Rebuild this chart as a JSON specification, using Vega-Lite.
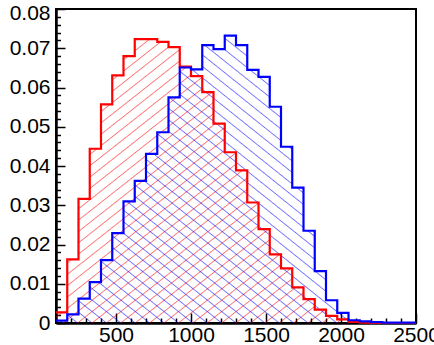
{
  "$schema": "https://vega.github.io/schema/vega-lite/v6.json",
  "width": 360,
  "height": 314,
  "autosize": {"type": "none"},
  "padding": {"left": 56, "top": 9, "right": 18, "bottom": 22},
  "background": "white",
  "config": {
    "view": {"stroke": "black", "strokeWidth": 2},
    "axis": {
      "grid": false,
      "title": null,
      "domainColor": "black",
      "domainWidth": 2.5,
      "tickColor": "black",
      "tickWidth": 1.5,
      "labelColor": "black",
      "labelFont": "Liberation Sans",
      "labelFontSize": 21,
      "labelOverlap": false,
      "labelBound": false,
      "labelFlush": false
    }
  },
  "data": {
    "values": [
      {"s": "red", "x": 100, "y": 0.0027},
      {"s": "red", "x": 175, "y": 0.0162},
      {"s": "red", "x": 250, "y": 0.0316},
      {"s": "red", "x": 325, "y": 0.0444},
      {"s": "red", "x": 400, "y": 0.0557},
      {"s": "red", "x": 475, "y": 0.0631},
      {"s": "red", "x": 550, "y": 0.068},
      {"s": "red", "x": 625, "y": 0.0723},
      {"s": "red", "x": 700, "y": 0.0723},
      {"s": "red", "x": 775, "y": 0.0716},
      {"s": "red", "x": 850, "y": 0.0703},
      {"s": "red", "x": 925, "y": 0.0653},
      {"s": "red", "x": 1000, "y": 0.0629},
      {"s": "red", "x": 1075, "y": 0.0588},
      {"s": "red", "x": 1150, "y": 0.0508},
      {"s": "red", "x": 1225, "y": 0.0435},
      {"s": "red", "x": 1300, "y": 0.0389},
      {"s": "red", "x": 1375, "y": 0.0307},
      {"s": "red", "x": 1450, "y": 0.0239},
      {"s": "red", "x": 1525, "y": 0.0175},
      {"s": "red", "x": 1600, "y": 0.0139},
      {"s": "red", "x": 1675, "y": 0.0091},
      {"s": "red", "x": 1750, "y": 0.0061},
      {"s": "red", "x": 1825, "y": 0.0034},
      {"s": "red", "x": 1900, "y": 0.0018},
      {"s": "red", "x": 1975, "y": 0.0009},
      {"s": "red", "x": 2050, "y": 0.0003},
      {"s": "red", "x": 2125, "y": 0.0001},
      {"s": "red", "x": 2200, "y": 0},
      {"s": "red", "x": 2275, "y": 0},
      {"s": "red", "x": 2350, "y": 0},
      {"s": "red", "x": 2425, "y": 0},
      {"s": "red", "x": 2500, "y": 0},
      {"s": "blue", "x": 100, "y": 0.0006},
      {"s": "blue", "x": 175, "y": 0.0022},
      {"s": "blue", "x": 250, "y": 0.0062},
      {"s": "blue", "x": 325, "y": 0.0104},
      {"s": "blue", "x": 400, "y": 0.016},
      {"s": "blue", "x": 475, "y": 0.0229},
      {"s": "blue", "x": 550, "y": 0.031},
      {"s": "blue", "x": 625, "y": 0.0362},
      {"s": "blue", "x": 700, "y": 0.0431},
      {"s": "blue", "x": 775, "y": 0.0486},
      {"s": "blue", "x": 850, "y": 0.0575},
      {"s": "blue", "x": 925, "y": 0.0651},
      {"s": "blue", "x": 1000, "y": 0.0646},
      {"s": "blue", "x": 1075, "y": 0.0708},
      {"s": "blue", "x": 1150, "y": 0.0698},
      {"s": "blue", "x": 1225, "y": 0.0732},
      {"s": "blue", "x": 1300, "y": 0.0708},
      {"s": "blue", "x": 1375, "y": 0.0645},
      {"s": "blue", "x": 1450, "y": 0.0627},
      {"s": "blue", "x": 1525, "y": 0.0551},
      {"s": "blue", "x": 1600, "y": 0.0449},
      {"s": "blue", "x": 1675, "y": 0.0345},
      {"s": "blue", "x": 1750, "y": 0.0235},
      {"s": "blue", "x": 1825, "y": 0.0132},
      {"s": "blue", "x": 1900, "y": 0.0058},
      {"s": "blue", "x": 1975, "y": 0.0026},
      {"s": "blue", "x": 2050, "y": 0.0007},
      {"s": "blue", "x": 2125, "y": 0.0004},
      {"s": "blue", "x": 2200, "y": 0.0002},
      {"s": "blue", "x": 2275, "y": 0.0001},
      {"s": "blue", "x": 2350, "y": 0.0001},
      {"s": "blue", "x": 2425, "y": 0.0001},
      {"s": "blue", "x": 2500, "y": 0.0001}
    ]
  },
  "encoding": {
    "x": {
      "field": "x",
      "type": "quantitative",
      "scale": {"domain": [100, 2500], "nice": false, "zero": false},
      "axis": {
        "values": [100,200,300,400,500,600,700,800,900,1000,1100,1200,1300,1400,1500,1600,1700,1800,1900,2000,2100,2200,2300,2400,2500],
        "labelExpr": "datum.value % 500 === 0 ? '' + datum.value : ''",
        "tickSize": {"condition": {"test": "datum.value % 500 === 0", "value": -10}, "value": -5},
        "labelPadding": 11
      }
    },
    "y": {
      "field": "y",
      "type": "quantitative",
      "scale": {"domain": [0, 0.08], "nice": false},
      "axis": {
        "values": [0,0.002,0.004,0.006,0.008,0.01,0.012,0.014,0.016,0.018,0.02,0.022,0.024,0.026,0.028,0.03,0.032,0.034,0.036,0.038,0.04,0.042,0.044,0.046,0.048,0.05,0.052,0.054,0.056,0.058,0.06,0.062,0.064,0.066,0.068,0.07,0.072,0.074,0.076,0.078,0.08],
        "labelExpr": "abs(datum.value*100-round(datum.value*100))<0.001 ? (datum.value===0 ? '0' : format(datum.value,'.2f')) : ''",
        "tickSize": {"condition": {"test": "abs(datum.value*100-round(datum.value*100))<0.001", "value": -9}, "value": -4.5},
        "labelOffset": {"condition": {"test": "datum.value > 0.0799", "value": 4}, "value": 0},
        "labelPadding": 15
      }
    }
  },
  "layer": [
    {
      "transform": [{"filter": "datum.s === 'red'"}],
      "mark": {
        "type": "area",
        "interpolate": "step-after",
        "opacity": 1,
        "fill": {
          "gradient": "linear", "x1": 0, "y1": 0, "x2": 1, "y2": 1,
          "stops": [
            {"offset":0.008,"color":"rgba(255,0,0,0)"},{"offset":0.01,"color":"rgba(255,0,0,0.55)"},{"offset":0.012,"color":"rgba(255,0,0,0)"},
            {"offset":0.028,"color":"rgba(255,0,0,0)"},{"offset":0.03,"color":"rgba(255,0,0,0.55)"},{"offset":0.032,"color":"rgba(255,0,0,0)"},
            {"offset":0.048,"color":"rgba(255,0,0,0)"},{"offset":0.05,"color":"rgba(255,0,0,0.55)"},{"offset":0.052,"color":"rgba(255,0,0,0)"},
            {"offset":0.068,"color":"rgba(255,0,0,0)"},{"offset":0.07,"color":"rgba(255,0,0,0.55)"},{"offset":0.072,"color":"rgba(255,0,0,0)"},
            {"offset":0.088,"color":"rgba(255,0,0,0)"},{"offset":0.09,"color":"rgba(255,0,0,0.55)"},{"offset":0.092,"color":"rgba(255,0,0,0)"},
            {"offset":0.108,"color":"rgba(255,0,0,0)"},{"offset":0.11,"color":"rgba(255,0,0,0.55)"},{"offset":0.112,"color":"rgba(255,0,0,0)"},
            {"offset":0.128,"color":"rgba(255,0,0,0)"},{"offset":0.13,"color":"rgba(255,0,0,0.55)"},{"offset":0.132,"color":"rgba(255,0,0,0)"},
            {"offset":0.148,"color":"rgba(255,0,0,0)"},{"offset":0.15,"color":"rgba(255,0,0,0.55)"},{"offset":0.152,"color":"rgba(255,0,0,0)"},
            {"offset":0.168,"color":"rgba(255,0,0,0)"},{"offset":0.17,"color":"rgba(255,0,0,0.55)"},{"offset":0.172,"color":"rgba(255,0,0,0)"},
            {"offset":0.188,"color":"rgba(255,0,0,0)"},{"offset":0.19,"color":"rgba(255,0,0,0.55)"},{"offset":0.192,"color":"rgba(255,0,0,0)"},
            {"offset":0.208,"color":"rgba(255,0,0,0)"},{"offset":0.21,"color":"rgba(255,0,0,0.55)"},{"offset":0.212,"color":"rgba(255,0,0,0)"},
            {"offset":0.228,"color":"rgba(255,0,0,0)"},{"offset":0.23,"color":"rgba(255,0,0,0.55)"},{"offset":0.232,"color":"rgba(255,0,0,0)"},
            {"offset":0.248,"color":"rgba(255,0,0,0)"},{"offset":0.25,"color":"rgba(255,0,0,0.55)"},{"offset":0.252,"color":"rgba(255,0,0,0)"},
            {"offset":0.268,"color":"rgba(255,0,0,0)"},{"offset":0.27,"color":"rgba(255,0,0,0.55)"},{"offset":0.272,"color":"rgba(255,0,0,0)"},
            {"offset":0.288,"color":"rgba(255,0,0,0)"},{"offset":0.29,"color":"rgba(255,0,0,0.55)"},{"offset":0.292,"color":"rgba(255,0,0,0)"},
            {"offset":0.308,"color":"rgba(255,0,0,0)"},{"offset":0.31,"color":"rgba(255,0,0,0.55)"},{"offset":0.312,"color":"rgba(255,0,0,0)"},
            {"offset":0.328,"color":"rgba(255,0,0,0)"},{"offset":0.33,"color":"rgba(255,0,0,0.55)"},{"offset":0.332,"color":"rgba(255,0,0,0)"},
            {"offset":0.348,"color":"rgba(255,0,0,0)"},{"offset":0.35,"color":"rgba(255,0,0,0.55)"},{"offset":0.352,"color":"rgba(255,0,0,0)"},
            {"offset":0.368,"color":"rgba(255,0,0,0)"},{"offset":0.37,"color":"rgba(255,0,0,0.55)"},{"offset":0.372,"color":"rgba(255,0,0,0)"},
            {"offset":0.388,"color":"rgba(255,0,0,0)"},{"offset":0.39,"color":"rgba(255,0,0,0.55)"},{"offset":0.392,"color":"rgba(255,0,0,0)"},
            {"offset":0.408,"color":"rgba(255,0,0,0)"},{"offset":0.41,"color":"rgba(255,0,0,0.55)"},{"offset":0.412,"color":"rgba(255,0,0,0)"},
            {"offset":0.428,"color":"rgba(255,0,0,0)"},{"offset":0.43,"color":"rgba(255,0,0,0.55)"},{"offset":0.432,"color":"rgba(255,0,0,0)"},
            {"offset":0.448,"color":"rgba(255,0,0,0)"},{"offset":0.45,"color":"rgba(255,0,0,0.55)"},{"offset":0.452,"color":"rgba(255,0,0,0)"},
            {"offset":0.468,"color":"rgba(255,0,0,0)"},{"offset":0.47,"color":"rgba(255,0,0,0.55)"},{"offset":0.472,"color":"rgba(255,0,0,0)"},
            {"offset":0.488,"color":"rgba(255,0,0,0)"},{"offset":0.49,"color":"rgba(255,0,0,0.55)"},{"offset":0.492,"color":"rgba(255,0,0,0)"},
            {"offset":0.508,"color":"rgba(255,0,0,0)"},{"offset":0.51,"color":"rgba(255,0,0,0.55)"},{"offset":0.512,"color":"rgba(255,0,0,0)"},
            {"offset":0.528,"color":"rgba(255,0,0,0)"},{"offset":0.53,"color":"rgba(255,0,0,0.55)"},{"offset":0.532,"color":"rgba(255,0,0,0)"},
            {"offset":0.548,"color":"rgba(255,0,0,0)"},{"offset":0.55,"color":"rgba(255,0,0,0.55)"},{"offset":0.552,"color":"rgba(255,0,0,0)"},
            {"offset":0.568,"color":"rgba(255,0,0,0)"},{"offset":0.57,"color":"rgba(255,0,0,0.55)"},{"offset":0.572,"color":"rgba(255,0,0,0)"},
            {"offset":0.588,"color":"rgba(255,0,0,0)"},{"offset":0.59,"color":"rgba(255,0,0,0.55)"},{"offset":0.592,"color":"rgba(255,0,0,0)"},
            {"offset":0.608,"color":"rgba(255,0,0,0)"},{"offset":0.61,"color":"rgba(255,0,0,0.55)"},{"offset":0.612,"color":"rgba(255,0,0,0)"},
            {"offset":0.628,"color":"rgba(255,0,0,0)"},{"offset":0.63,"color":"rgba(255,0,0,0.55)"},{"offset":0.632,"color":"rgba(255,0,0,0)"},
            {"offset":0.648,"color":"rgba(255,0,0,0)"},{"offset":0.65,"color":"rgba(255,0,0,0.55)"},{"offset":0.652,"color":"rgba(255,0,0,0)"},
            {"offset":0.668,"color":"rgba(255,0,0,0)"},{"offset":0.67,"color":"rgba(255,0,0,0.55)"},{"offset":0.672,"color":"rgba(255,0,0,0)"},
            {"offset":0.688,"color":"rgba(255,0,0,0)"},{"offset":0.69,"color":"rgba(255,0,0,0.55)"},{"offset":0.692,"color":"rgba(255,0,0,0)"},
            {"offset":0.708,"color":"rgba(255,0,0,0)"},{"offset":0.71,"color":"rgba(255,0,0,0.55)"},{"offset":0.712,"color":"rgba(255,0,0,0)"},
            {"offset":0.728,"color":"rgba(255,0,0,0)"},{"offset":0.73,"color":"rgba(255,0,0,0.55)"},{"offset":0.732,"color":"rgba(255,0,0,0)"},
            {"offset":0.748,"color":"rgba(255,0,0,0)"},{"offset":0.75,"color":"rgba(255,0,0,0.55)"},{"offset":0.752,"color":"rgba(255,0,0,0)"},
            {"offset":0.768,"color":"rgba(255,0,0,0)"},{"offset":0.77,"color":"rgba(255,0,0,0.55)"},{"offset":0.772,"color":"rgba(255,0,0,0)"},
            {"offset":0.788,"color":"rgba(255,0,0,0)"},{"offset":0.79,"color":"rgba(255,0,0,0.55)"},{"offset":0.792,"color":"rgba(255,0,0,0)"},
            {"offset":0.808,"color":"rgba(255,0,0,0)"},{"offset":0.81,"color":"rgba(255,0,0,0.55)"},{"offset":0.812,"color":"rgba(255,0,0,0)"},
            {"offset":0.828,"color":"rgba(255,0,0,0)"},{"offset":0.83,"color":"rgba(255,0,0,0.55)"},{"offset":0.832,"color":"rgba(255,0,0,0)"},
            {"offset":0.848,"color":"rgba(255,0,0,0)"},{"offset":0.85,"color":"rgba(255,0,0,0.55)"},{"offset":0.852,"color":"rgba(255,0,0,0)"},
            {"offset":0.868,"color":"rgba(255,0,0,0)"},{"offset":0.87,"color":"rgba(255,0,0,0.55)"},{"offset":0.872,"color":"rgba(255,0,0,0)"},
            {"offset":0.888,"color":"rgba(255,0,0,0)"},{"offset":0.89,"color":"rgba(255,0,0,0.55)"},{"offset":0.892,"color":"rgba(255,0,0,0)"},
            {"offset":0.908,"color":"rgba(255,0,0,0)"},{"offset":0.91,"color":"rgba(255,0,0,0.55)"},{"offset":0.912,"color":"rgba(255,0,0,0)"},
            {"offset":0.928,"color":"rgba(255,0,0,0)"},{"offset":0.93,"color":"rgba(255,0,0,0.55)"},{"offset":0.932,"color":"rgba(255,0,0,0)"},
            {"offset":0.948,"color":"rgba(255,0,0,0)"},{"offset":0.95,"color":"rgba(255,0,0,0.55)"},{"offset":0.952,"color":"rgba(255,0,0,0)"},
            {"offset":0.968,"color":"rgba(255,0,0,0)"},{"offset":0.97,"color":"rgba(255,0,0,0.55)"},{"offset":0.972,"color":"rgba(255,0,0,0)"},
            {"offset":0.988,"color":"rgba(255,0,0,0)"},{"offset":0.99,"color":"rgba(255,0,0,0.55)"},{"offset":0.992,"color":"rgba(255,0,0,0)"}
          ]
        }
      }
    },
    {
      "transform": [{"filter": "datum.s === 'blue'"}],
      "mark": {
        "type": "area",
        "interpolate": "step-after",
        "opacity": 1,
        "fill": {
          "gradient": "linear", "x1": 0, "y1": 1, "x2": 1, "y2": 0,
          "stops": [
            {"offset":0.008,"color":"rgba(0,0,255,0)"},{"offset":0.01,"color":"rgba(0,0,255,0.55)"},{"offset":0.012,"color":"rgba(0,0,255,0)"},
            {"offset":0.028,"color":"rgba(0,0,255,0)"},{"offset":0.03,"color":"rgba(0,0,255,0.55)"},{"offset":0.032,"color":"rgba(0,0,255,0)"},
            {"offset":0.048,"color":"rgba(0,0,255,0)"},{"offset":0.05,"color":"rgba(0,0,255,0.55)"},{"offset":0.052,"color":"rgba(0,0,255,0)"},
            {"offset":0.068,"color":"rgba(0,0,255,0)"},{"offset":0.07,"color":"rgba(0,0,255,0.55)"},{"offset":0.072,"color":"rgba(0,0,255,0)"},
            {"offset":0.088,"color":"rgba(0,0,255,0)"},{"offset":0.09,"color":"rgba(0,0,255,0.55)"},{"offset":0.092,"color":"rgba(0,0,255,0)"},
            {"offset":0.108,"color":"rgba(0,0,255,0)"},{"offset":0.11,"color":"rgba(0,0,255,0.55)"},{"offset":0.112,"color":"rgba(0,0,255,0)"},
            {"offset":0.128,"color":"rgba(0,0,255,0)"},{"offset":0.13,"color":"rgba(0,0,255,0.55)"},{"offset":0.132,"color":"rgba(0,0,255,0)"},
            {"offset":0.148,"color":"rgba(0,0,255,0)"},{"offset":0.15,"color":"rgba(0,0,255,0.55)"},{"offset":0.152,"color":"rgba(0,0,255,0)"},
            {"offset":0.168,"color":"rgba(0,0,255,0)"},{"offset":0.17,"color":"rgba(0,0,255,0.55)"},{"offset":0.172,"color":"rgba(0,0,255,0)"},
            {"offset":0.188,"color":"rgba(0,0,255,0)"},{"offset":0.19,"color":"rgba(0,0,255,0.55)"},{"offset":0.192,"color":"rgba(0,0,255,0)"},
            {"offset":0.208,"color":"rgba(0,0,255,0)"},{"offset":0.21,"color":"rgba(0,0,255,0.55)"},{"offset":0.212,"color":"rgba(0,0,255,0)"},
            {"offset":0.228,"color":"rgba(0,0,255,0)"},{"offset":0.23,"color":"rgba(0,0,255,0.55)"},{"offset":0.232,"color":"rgba(0,0,255,0)"},
            {"offset":0.248,"color":"rgba(0,0,255,0)"},{"offset":0.25,"color":"rgba(0,0,255,0.55)"},{"offset":0.252,"color":"rgba(0,0,255,0)"},
            {"offset":0.268,"color":"rgba(0,0,255,0)"},{"offset":0.27,"color":"rgba(0,0,255,0.55)"},{"offset":0.272,"color":"rgba(0,0,255,0)"},
            {"offset":0.288,"color":"rgba(0,0,255,0)"},{"offset":0.29,"color":"rgba(0,0,255,0.55)"},{"offset":0.292,"color":"rgba(0,0,255,0)"},
            {"offset":0.308,"color":"rgba(0,0,255,0)"},{"offset":0.31,"color":"rgba(0,0,255,0.55)"},{"offset":0.312,"color":"rgba(0,0,255,0)"},
            {"offset":0.328,"color":"rgba(0,0,255,0)"},{"offset":0.33,"color":"rgba(0,0,255,0.55)"},{"offset":0.332,"color":"rgba(0,0,255,0)"},
            {"offset":0.348,"color":"rgba(0,0,255,0)"},{"offset":0.35,"color":"rgba(0,0,255,0.55)"},{"offset":0.352,"color":"rgba(0,0,255,0)"},
            {"offset":0.368,"color":"rgba(0,0,255,0)"},{"offset":0.37,"color":"rgba(0,0,255,0.55)"},{"offset":0.372,"color":"rgba(0,0,255,0)"},
            {"offset":0.388,"color":"rgba(0,0,255,0)"},{"offset":0.39,"color":"rgba(0,0,255,0.55)"},{"offset":0.392,"color":"rgba(0,0,255,0)"},
            {"offset":0.408,"color":"rgba(0,0,255,0)"},{"offset":0.41,"color":"rgba(0,0,255,0.55)"},{"offset":0.412,"color":"rgba(0,0,255,0)"},
            {"offset":0.428,"color":"rgba(0,0,255,0)"},{"offset":0.43,"color":"rgba(0,0,255,0.55)"},{"offset":0.432,"color":"rgba(0,0,255,0)"},
            {"offset":0.448,"color":"rgba(0,0,255,0)"},{"offset":0.45,"color":"rgba(0,0,255,0.55)"},{"offset":0.452,"color":"rgba(0,0,255,0)"},
            {"offset":0.468,"color":"rgba(0,0,255,0)"},{"offset":0.47,"color":"rgba(0,0,255,0.55)"},{"offset":0.472,"color":"rgba(0,0,255,0)"},
            {"offset":0.488,"color":"rgba(0,0,255,0)"},{"offset":0.49,"color":"rgba(0,0,255,0.55)"},{"offset":0.492,"color":"rgba(0,0,255,0)"},
            {"offset":0.508,"color":"rgba(0,0,255,0)"},{"offset":0.51,"color":"rgba(0,0,255,0.55)"},{"offset":0.512,"color":"rgba(0,0,255,0)"},
            {"offset":0.528,"color":"rgba(0,0,255,0)"},{"offset":0.53,"color":"rgba(0,0,255,0.55)"},{"offset":0.532,"color":"rgba(0,0,255,0)"},
            {"offset":0.548,"color":"rgba(0,0,255,0)"},{"offset":0.55,"color":"rgba(0,0,255,0.55)"},{"offset":0.552,"color":"rgba(0,0,255,0)"},
            {"offset":0.568,"color":"rgba(0,0,255,0)"},{"offset":0.57,"color":"rgba(0,0,255,0.55)"},{"offset":0.572,"color":"rgba(0,0,255,0)"},
            {"offset":0.588,"color":"rgba(0,0,255,0)"},{"offset":0.59,"color":"rgba(0,0,255,0.55)"},{"offset":0.592,"color":"rgba(0,0,255,0)"},
            {"offset":0.608,"color":"rgba(0,0,255,0)"},{"offset":0.61,"color":"rgba(0,0,255,0.55)"},{"offset":0.612,"color":"rgba(0,0,255,0)"},
            {"offset":0.628,"color":"rgba(0,0,255,0)"},{"offset":0.63,"color":"rgba(0,0,255,0.55)"},{"offset":0.632,"color":"rgba(0,0,255,0)"},
            {"offset":0.648,"color":"rgba(0,0,255,0)"},{"offset":0.65,"color":"rgba(0,0,255,0.55)"},{"offset":0.652,"color":"rgba(0,0,255,0)"},
            {"offset":0.668,"color":"rgba(0,0,255,0)"},{"offset":0.67,"color":"rgba(0,0,255,0.55)"},{"offset":0.672,"color":"rgba(0,0,255,0)"},
            {"offset":0.688,"color":"rgba(0,0,255,0)"},{"offset":0.69,"color":"rgba(0,0,255,0.55)"},{"offset":0.692,"color":"rgba(0,0,255,0)"},
            {"offset":0.708,"color":"rgba(0,0,255,0)"},{"offset":0.71,"color":"rgba(0,0,255,0.55)"},{"offset":0.712,"color":"rgba(0,0,255,0)"},
            {"offset":0.728,"color":"rgba(0,0,255,0)"},{"offset":0.73,"color":"rgba(0,0,255,0.55)"},{"offset":0.732,"color":"rgba(0,0,255,0)"},
            {"offset":0.748,"color":"rgba(0,0,255,0)"},{"offset":0.75,"color":"rgba(0,0,255,0.55)"},{"offset":0.752,"color":"rgba(0,0,255,0)"},
            {"offset":0.768,"color":"rgba(0,0,255,0)"},{"offset":0.77,"color":"rgba(0,0,255,0.55)"},{"offset":0.772,"color":"rgba(0,0,255,0)"},
            {"offset":0.788,"color":"rgba(0,0,255,0)"},{"offset":0.79,"color":"rgba(0,0,255,0.55)"},{"offset":0.792,"color":"rgba(0,0,255,0)"},
            {"offset":0.808,"color":"rgba(0,0,255,0)"},{"offset":0.81,"color":"rgba(0,0,255,0.55)"},{"offset":0.812,"color":"rgba(0,0,255,0)"},
            {"offset":0.828,"color":"rgba(0,0,255,0)"},{"offset":0.83,"color":"rgba(0,0,255,0.55)"},{"offset":0.832,"color":"rgba(0,0,255,0)"},
            {"offset":0.848,"color":"rgba(0,0,255,0)"},{"offset":0.85,"color":"rgba(0,0,255,0.55)"},{"offset":0.852,"color":"rgba(0,0,255,0)"},
            {"offset":0.868,"color":"rgba(0,0,255,0)"},{"offset":0.87,"color":"rgba(0,0,255,0.55)"},{"offset":0.872,"color":"rgba(0,0,255,0)"},
            {"offset":0.888,"color":"rgba(0,0,255,0)"},{"offset":0.89,"color":"rgba(0,0,255,0.55)"},{"offset":0.892,"color":"rgba(0,0,255,0)"},
            {"offset":0.908,"color":"rgba(0,0,255,0)"},{"offset":0.91,"color":"rgba(0,0,255,0.55)"},{"offset":0.912,"color":"rgba(0,0,255,0)"},
            {"offset":0.928,"color":"rgba(0,0,255,0)"},{"offset":0.93,"color":"rgba(0,0,255,0.55)"},{"offset":0.932,"color":"rgba(0,0,255,0)"},
            {"offset":0.948,"color":"rgba(0,0,255,0)"},{"offset":0.95,"color":"rgba(0,0,255,0.55)"},{"offset":0.952,"color":"rgba(0,0,255,0)"},
            {"offset":0.968,"color":"rgba(0,0,255,0)"},{"offset":0.97,"color":"rgba(0,0,255,0.55)"},{"offset":0.972,"color":"rgba(0,0,255,0)"},
            {"offset":0.988,"color":"rgba(0,0,255,0)"},{"offset":0.99,"color":"rgba(0,0,255,0.55)"},{"offset":0.992,"color":"rgba(0,0,255,0)"}
          ]
        }
      }
    },
    {
      "transform": [{"filter": "datum.s === 'red'"}],
      "mark": {"type": "line", "interpolate": "step-after", "color": "#ff0000", "strokeWidth": 2.2}
    },
    {
      "transform": [{"filter": "datum.s === 'blue'"}],
      "mark": {"type": "line", "interpolate": "step-after", "color": "#0000ff", "strokeWidth": 2.2}
    }
  ]
}
